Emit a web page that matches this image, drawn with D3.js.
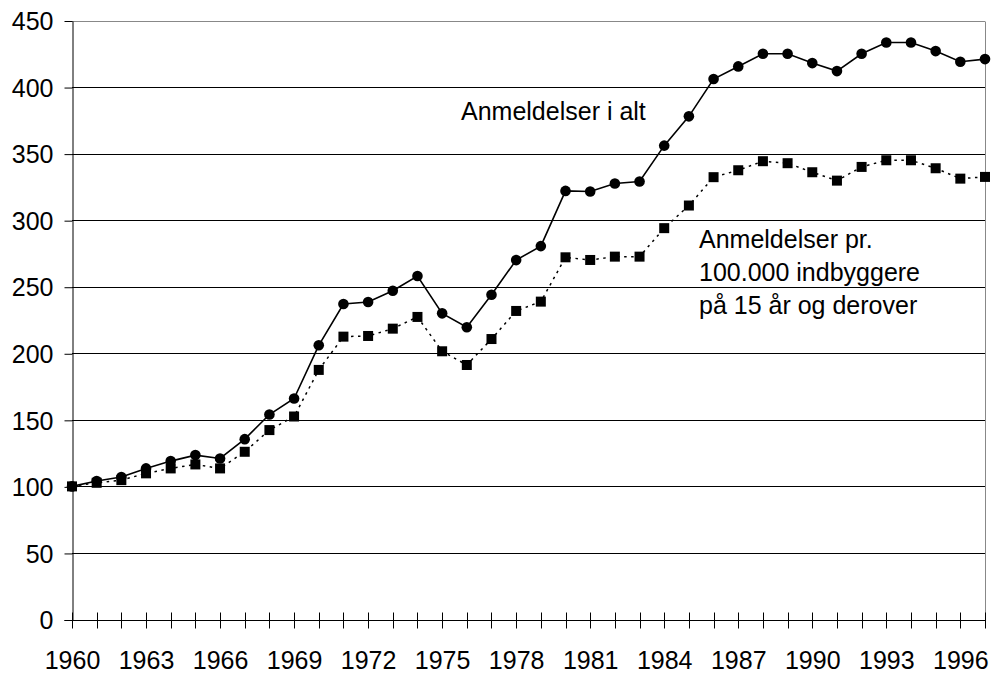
<!DOCTYPE html>
<html>
<head>
<meta charset="utf-8">
<script src="https://cdn.jsdelivr.net/npm/d3@7"></script>
<style>
  html, body { margin: 0; padding: 0; background: #fff; }
  svg { display: block; font-family: "Liberation Sans", Arial, Helvetica, sans-serif; }
</style>
</head>
<body>
<svg id="chart" width="992" height="674"></svg>
<script>
const years = d3.range(1960, 1998);
const totalReports = [100, 104, 107, 113.5, 119, 123.5, 121, 135.5, 154, 166,
  206, 237, 238.5, 247, 258, 230, 219.5, 244, 270, 280.5,
  322, 321.5, 327.5, 329, 356, 378, 406, 415.5, 425, 425,
  418, 412, 425, 433.5, 433.5, 427, 419, 421];
const perCapita = [100, 102.7, 104.7, 109.8, 113.5, 116.5, 113.5, 126, 142.3, 152.5,
  187.5, 212.5, 213, 218.5, 227.3, 201.5, 191.2, 210.7, 231.8, 238.8,
  272.1, 270.1, 272.6, 272.6, 294, 311, 332.3, 337.5, 344.3, 342.8,
  336, 329.7, 340, 345, 345, 339, 331.2, 332.5];
const yTicks = [0, 50, 100, 150, 200, 250, 300, 350, 400, 450];
const xLabelYears = [1960, 1963, 1966, 1969, 1972, 1975, 1978, 1981, 1984, 1987, 1990, 1993, 1996];
const labelTotal = ["Anmeldelser i alt"];
const labelPerCapita = ["Anmeldelser pr.", "100.000 indbyggere", "på 15 år og derover"];

const svg = d3.select("#chart");
const L = 72, R = 985, T = 20.5, B = 619.5;
const x = d3.scaleLinear().domain([1960, 1997]).range([L, R]);
const y = d3.scaleLinear().domain([0, 450]).range([B, T]);

// gridlines
svg.append("g").selectAll("line").data(yTicks.filter(d => d > 0)).join("line")
  .attr("x1", L).attr("x2", R)
  .attr("y1", d => Math.round(y(d)) + 0.5).attr("y2", d => Math.round(y(d)) + 0.5)
  .attr("stroke", d => d === 450 ? "#888" : "#000").attr("stroke-width", 1);
// right border
svg.append("line").attr("x1", R + 0.5).attr("x2", R + 0.5).attr("y1", Math.round(T) + 0.5).attr("y2", B)
  .attr("stroke", "#888");

// y axis
const yAxis = d3.axisLeft(y).tickValues(yTicks).tickSize(8).tickPadding(11).tickSizeOuter(0);
const gy = svg.append("g").attr("transform", `translate(${L + 0.5},0.5)`).call(yAxis);
gy.select(".domain").attr("stroke", "#000");
gy.selectAll(".tick line").attr("stroke", "#000");
gy.selectAll("text").attr("font-size", 25).attr("fill", "#000")
  .attr("font-family", "Liberation Sans, Arial, sans-serif").attr("dy", "0.35em");

// x axis line and ticks
const gx = svg.append("g").attr("transform", `translate(0.5,${Math.round(B) + 0.5})`);
gx.append("line").attr("x1", L - 8).attr("x2", R).attr("y1", 0).attr("y2", 0).attr("stroke", "#000");
gx.selectAll("line.tk").data(years).join("line").attr("class", "tk")
  .attr("x1", d => Math.round(x(d))).attr("x2", d => Math.round(x(d)))
  .attr("y1", -8).attr("y2", 8).attr("stroke", "#000");
gx.selectAll("text").data(xLabelYears).join("text")
  .attr("x", d => x(d)).attr("y", 48.5)
  .attr("text-anchor", "middle").attr("font-size", 25).attr("fill", "#000")
  .text(d => d);

// lines
const lineGen = d3.line().x((d, i) => x(years[i])).y(d => y(d));
svg.append("path").datum(perCapita).attr("d", lineGen)
  .attr("fill", "none").attr("stroke", "#000").attr("stroke-width", 1.5)
  .attr("stroke-dasharray", "2.5,4.5");
svg.append("path").datum(totalReports).attr("d", lineGen)
  .attr("fill", "none").attr("stroke", "#000").attr("stroke-width", 1.6);

// markers
svg.append("g").selectAll("rect").data(perCapita).join("rect")
  .attr("x", (d, i) => x(years[i]) - 5).attr("y", d => y(d) - 5)
  .attr("width", 10).attr("height", 10).attr("fill", "#000");
svg.append("g").selectAll("circle").data(totalReports).join("circle")
  .attr("cx", (d, i) => x(years[i])).attr("cy", d => y(d))
  .attr("r", 5.3).attr("fill", "#000");

// labels
svg.append("text").attr("x", 461).attr("y", 120).attr("font-size", 25).attr("fill", "#000")
  .text(labelTotal[0]);
svg.append("g").selectAll("text").data(labelPerCapita).join("text")
  .attr("x", 699).attr("y", (d, i) => 247.5 + i * 33.3)
  .attr("font-size", 25).attr("fill", "#000").text(d => d);
</script>
</body>
</html>
